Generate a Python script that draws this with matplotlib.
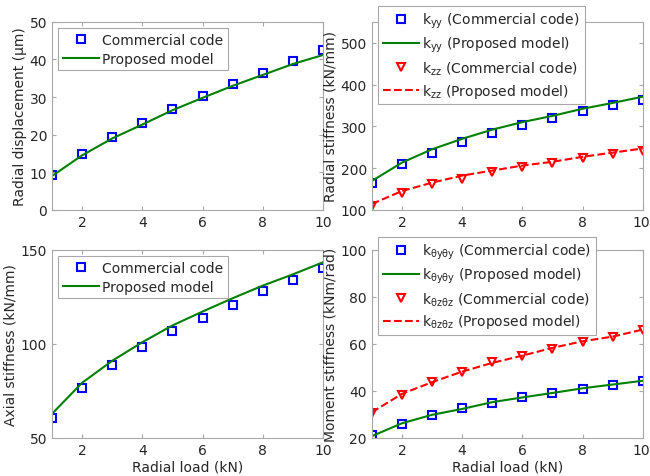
import numpy as np
import matplotlib
matplotlib.use('Agg')
import matplotlib.pyplot as plt
import matplotlib.transforms as mtransforms

load = [1, 2, 3, 4, 5, 6, 7, 8, 9, 10]

# radial displacement (um)
disp_fem = [9.3, 14.9, 19.3, 23.2, 26.9, 30.2, 33.5, 36.5, 39.5, 42.4]
disp_model = [9.0, 14.5, 19.0, 22.7, 26.5, 29.8, 33.0, 35.9, 38.8, 41.2]

# radial stiffness (kN/mm)
kyy_fem = [165, 209, 237, 263, 283, 302, 321, 336, 350, 363]
kyy_model = [169, 213, 245, 270, 292, 310, 325, 342, 356, 371]
kzz_fem = [110, 141, 161, 175, 190, 203, 213, 225, 233, 242]
kzz_model = [114, 145, 165, 182, 194, 206, 215, 227, 237, 247]

# axial stiffness (kN/mm)
kxx_fem = [60.5, 76.6, 88.8, 98.6, 106.9, 113.8, 120.9, 128.0, 134.0, 140.2]
kxx_model = [62.8, 79.3, 91.0, 100.9, 109.8, 117.2, 124.3, 131.0, 137.0, 143.4]

# moment stiffness (kNm/rad)
kty_fem = [21.0, 26.0, 29.8, 32.8, 35.0, 37.2, 39.1, 41.0, 42.6, 44.3]
kty_model = [20.7, 26.2, 29.8, 32.3, 35.2, 37.2, 39.1, 41.1, 42.7, 44.3]
ktz_fem = [30.5, 38.4, 43.7, 47.9, 52.2, 55.0, 57.9, 61.0, 63.1, 66.0]
ktz_model = [30.9, 38.7, 43.7, 48.2, 51.9, 55.0, 58.3, 61.1, 63.1, 66.1]

blue = (0, 0, 1)
green = (0, 0.5, 0)
red = (1, 0, 0)
frame = '#a8a8a8'
txt = '#262626'

plt.rcParams['font.size'] = 10
plt.rcParams['mathtext.fontset'] = 'dejavusans'

fig = plt.figure(figsize=(6.5, 4.77), dpi=100)
w, h = 0.417, 0.394
ax1 = fig.add_axes([0.080, 0.558, w, h])
ax2 = fig.add_axes([0.572, 0.558, w, h])
ax3 = fig.add_axes([0.080, 0.080, w, h])
ax4 = fig.add_axes([0.572, 0.080, w, h])

mk = dict(linestyle='none', markerfacecolor='none', markersize=6, markeredgewidth=1.5)

def style(ax, ylim, yticks):
    ax.set_xlim(1, 10)
    ax.set_xticks([2, 4, 6, 8, 10])
    ax.set_ylim(*ylim)
    ax.set_yticks(yticks)
    ax.tick_params(direction='in', length=3, colors=frame, labelcolor=txt,
                   top=True, right=True, labelsize=10)
    for s in ax.spines.values():
        s.set_color(frame)
        s.set_linewidth(0.8)

def leg(ax, anchor, transform, fs=10):
    l = ax.legend(loc='upper left', bbox_to_anchor=anchor, bbox_transform=transform,
                  fancybox=False, edgecolor=frame, framealpha=1, fontsize=fs,
                  handlelength=2.6, handletextpad=0.25, borderpad=0.35,
                  labelspacing=0.35, borderaxespad=0)
    l.get_frame().set_linewidth(0.8)
    for t in l.get_texts():
        t.set_color(txt)

# top left
ax1.plot(load, disp_fem, marker='s', color=blue, label='Commercial code', **mk)
ax1.plot(load, disp_model, color=green, lw=1.5, label='Proposed model')
style(ax1, (0, 50), [0, 10, 20, 30, 40, 50])
ax1.set_ylabel('Radial displacement (\u00b5m)', color=txt, labelpad=2)
leg(ax1, (0.022, 0.968), ax1.transAxes)

# top right
ax2.plot(load, kyy_fem, marker='s', color=blue, label=r'k$_{\mathrm{yy}}$ (Commercial code)', **mk)
ax2.plot(load, kyy_model, color=green, lw=1.5, label=r'k$_{\mathrm{yy}}$ (Proposed model)')
ax2.plot(load, kzz_fem, marker='v', color=red, label=r'k$_{\mathrm{zz}}$ (Commercial code)', **mk)
ax2.plot(load, kzz_model, color=red, lw=1.5, ls='--', label=r'k$_{\mathrm{zz}}$ (Proposed model)')
style(ax2, (100, 550), [100, 200, 300, 400, 500])
ax2.set_ylabel('Radial stiffness (kN/mm)', color=txt, labelpad=2)
leg(ax2, (0.5815, 0.985), fig.transFigure)

# bottom left
ax3.plot(load, kxx_fem, marker='s', color=blue, label='Commercial code', **mk)
ax3.plot(load, kxx_model, color=green, lw=1.5, label='Proposed model')
style(ax3, (50, 150), [50, 100, 150])
ax3.set_ylabel('Axial stiffness (kN/mm)', color=txt, labelpad=2)
ax3.set_xlabel('Radial load (kN)', color=txt, labelpad=2)
leg(ax3, (0.022, 0.968), ax3.transAxes)

# bottom right
ax4.plot(load, kty_fem, marker='s', color=blue, label=r'k$_{\mathrm{\theta y\theta y}}$ (Commercial code)', **mk)
ax4.plot(load, kty_model, color=green, lw=1.5, label=r'k$_{\mathrm{\theta y\theta y}}$ (Proposed model)')
ax4.plot(load, ktz_fem, marker='v', color=red, label=r'k$_{\mathrm{\theta z\theta z}}$ (Commercial code)', **mk)
ax4.plot(load, ktz_model, color=red, lw=1.5, ls='--', label=r'k$_{\mathrm{\theta z\theta z}}$ (Proposed model)')
style(ax4, (20, 100), [20, 40, 60, 80, 100])
ax4.set_ylabel('Moment stiffness (kNm/rad)', color=txt, labelpad=2)
ax4.set_xlabel('Radial load (kN)', color=txt, labelpad=2)
leg(ax4, (0.5815, 0.501), fig.transFigure)

# keep the last x tick label of the right panels inside the canvas
shift = mtransforms.ScaledTranslation(-2 / 100, 0, fig.dpi_scale_trans)
for ax in (ax2, ax4):
    lab = ax.get_xticklabels()[-1]
    lab.set_transform(lab.get_transform() + shift)

fig.savefig('out.png', dpi=100)
